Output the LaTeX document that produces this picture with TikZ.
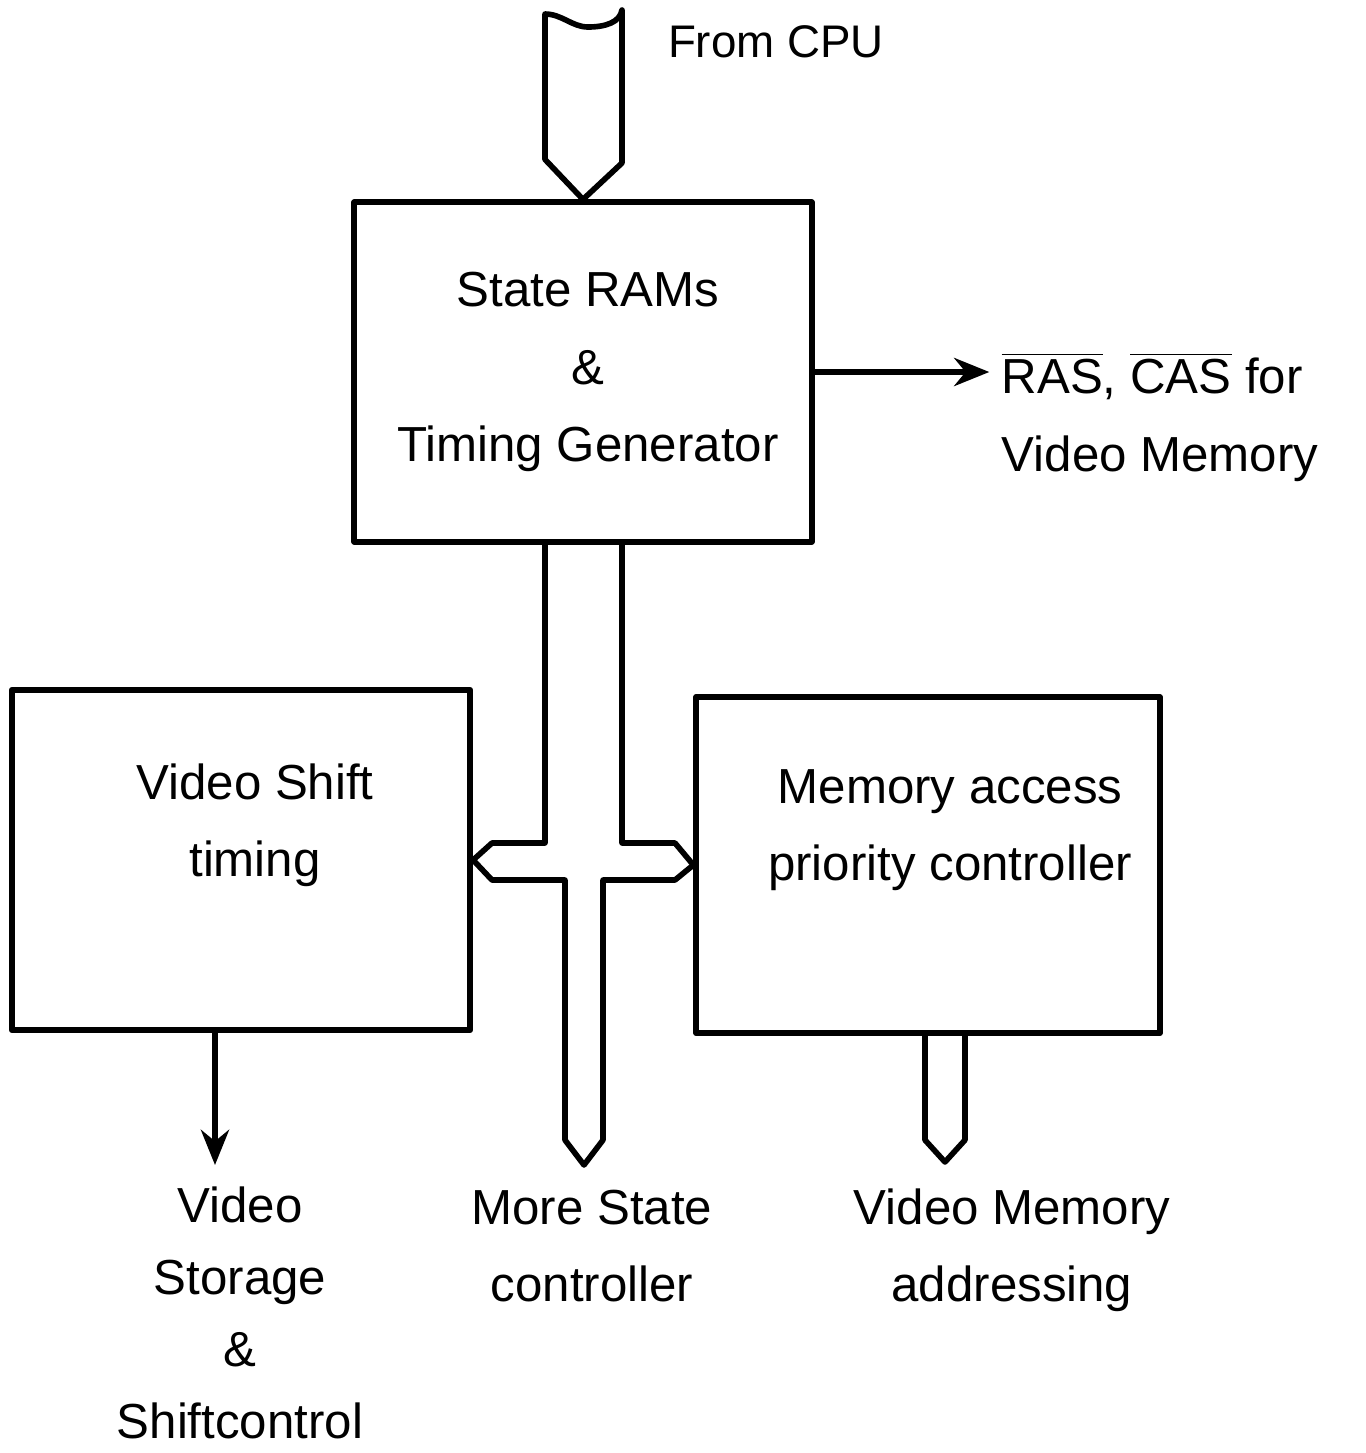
\documentclass[tikz,border=0pt]{standalone}
\usepackage{fontspec}
\setmainfont{Liberation Sans}
\usetikzlibrary{calc,arrows.meta}
\begin{document}
\begin{tikzpicture}[x=0.01cm,y=-0.01cm,line join=round,
  every node/.style={font=\fontsize{14}{22}\selectfont,align=center},
  blockbox/.style={draw,line width=1.7pt,inner sep=0pt},
  bus/.style={draw,line width=1.6pt},
  sig/.style={line width=1.6pt,-{Stealth[length=10pt,width=8pt]}}]
\useasboundingbox (0,0) rectangle (1365,1453);
% blocks
\node[blockbox,minimum width=4.57cm,minimum height=3.39cm] (main) at (583,372) {};
\node[blockbox,minimum width=4.58cm,minimum height=3.40cm] (shift) at (241,860) {};
\node[blockbox,minimum width=4.63cm,minimum height=3.36cm] (mem) at (928,865) {};
\node (mainlbl) at (588,372) {State RAMs\\\&\\Timing Generator};
\node (shiftlbl) at (255,825) {Video Shift\\timing};
\node (memlbl) at (950,830) {Memory access\\priority controller};
% outside labels
\node[font=\fontsize{13}{18}\selectfont] (cpulbl) at (776,42) {From CPU};
\node[align=left] (raslbl) at (1160,417) {$\overline{\mbox{RAS}}$, $\overline{\mbox{CAS}}$ for\\Video Memory};
\node[font=\fontsize{14}{20.5}\selectfont] (vsclbl) at (240,1313) {Video\\Storage\\\&\\Shiftcontrol};
\node (msclbl) at (592,1246) {More State\\controller};
\node (vmalbl) at (1012,1250) {Video Memory\\addressing};
\coordinate (msc) at (584,1165);
\coordinate (vsc) at (215,1165);
\coordinate (vma) at (945,1162);
% buses and signals
\draw[bus] (main.north) -- ++(-38,-40) -- (545,14) .. controls (562,14) and (572,27) .. (588,27) .. controls (606,27) and (620,22) .. (622,10) -- (622,163) -- cycle;
\draw[sig] (main.east) -- (main.east -| raslbl.west);
\draw[bus] ($(main.south)+(-38,0)$) -- (545,843) -- (492,843) -- (shift.east) -- (492,880) -- (565,880) -- ($(msc)+(-19,-25)$) -- (msc) -- ($(msc)+(19,-25)$) -- (603,880) -- (675,880) -- (mem.west) -- (675,843) -- (622,843) -- ($(main.south)+(39,0)$);
\draw[sig] (shift.south -| vsc) -- (vsc);
\draw[bus] ($(mem.south)+(-3,0)$) -- ($(vma)+(-20,-22)$) -- (vma) -- ($(vma)+(20,-22)$) -- ($(mem.south)+(37,0)$);
\end{tikzpicture}
\end{document}
